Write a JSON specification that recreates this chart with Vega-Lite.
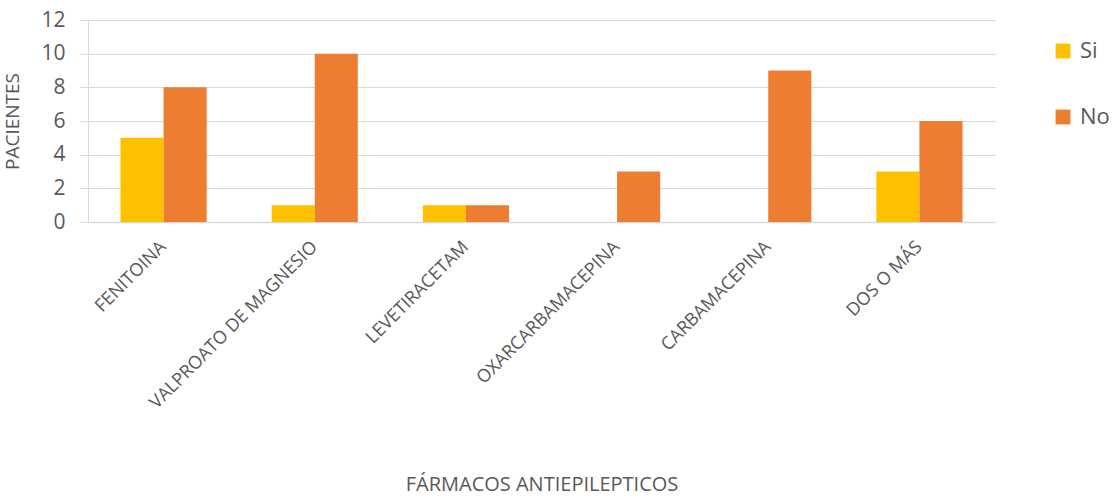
{
  "$schema": "https://vega.github.io/schema/vega-lite/v6.json",
  "width": 907,
  "height": 202,
  "autosize": {"type": "none"},
  "padding": {"left": 88, "top": 20, "right": 122, "bottom": 277},
  "background": "white",
  "data": {
    "values": [
      {"farmaco": "FENITOINA", "respuesta": "Si", "pacientes": 5},
      {"farmaco": "FENITOINA", "respuesta": "No", "pacientes": 8},
      {"farmaco": "VALPROATO DE MAGNESIO", "respuesta": "Si", "pacientes": 1},
      {"farmaco": "VALPROATO DE MAGNESIO", "respuesta": "No", "pacientes": 10},
      {"farmaco": "LEVETIRACETAM", "respuesta": "Si", "pacientes": 1},
      {"farmaco": "LEVETIRACETAM", "respuesta": "No", "pacientes": 1},
      {"farmaco": "OXARCARBAMACEPINA", "respuesta": "Si", "pacientes": 0},
      {"farmaco": "OXARCARBAMACEPINA", "respuesta": "No", "pacientes": 3},
      {"farmaco": "CARBAMACEPINA", "respuesta": "Si", "pacientes": 0},
      {"farmaco": "CARBAMACEPINA", "respuesta": "No", "pacientes": 9},
      {"farmaco": "DOS O MÁS", "respuesta": "Si", "pacientes": 3},
      {"farmaco": "DOS O MÁS", "respuesta": "No", "pacientes": 6}
    ]
  },
  "config": {
    "view": {"stroke": null},
    "font": "Open Sans",
    "axis": {"labelColor": "#595959", "titleColor": "#595959", "titleFontWeight": "normal", "labelFont": "Open Sans", "titleFont": "Open Sans"}
  },
  "mark": {"type": "bar"},
  "encoding": {
    "x": {
      "field": "farmaco",
      "type": "nominal",
      "sort": null,
      "scale": {"paddingInner": 0.43, "paddingOuter": 0.215},
      "axis": {
        "title": "FÁRMACOS ANTIEPILEPTICOS",
        "titleFontSize": 20,
        "titleY": 262,
        "titleBaseline": "middle",
        "labelAngle": -45,
        "labelAlign": "right",
        "labelBaseline": "middle",
        "labelFontSize": 18,
        "labelLimit": 0,
        "labelPadding": 22,
        "ticks": false,
        "domainColor": "#d9d9d9",
        "domainWidth": 1.5
      }
    },
    "xOffset": {"field": "respuesta", "type": "nominal", "sort": ["Si", "No"]},
    "y": {
      "field": "pacientes",
      "type": "quantitative",
      "scale": {"domain": [0, 12]},
      "axis": {
        "title": "PACIENTES",
        "titleFontSize": 19,
        "titleX": -66,
        "values": [0, 2, 4, 6, 8, 10, 12],
        "labelFontSize": 21,
        "labelPadding": 15,
        "gridColor": "#d9d9d9",
        "gridWidth": 1.2,
        "tickColor": "#d9d9d9",
        "tickSize": 8,
        "domainColor": "#d9d9d9"
      }
    },
    "color": {
      "field": "respuesta",
      "type": "nominal",
      "sort": ["Si", "No"],
      "scale": {"domain": ["Si", "No"], "range": ["#FFC000", "#ED7D31"]},
      "legend": {
        "title": null,
        "orient": "none",
        "legendX": 964,
        "legendY": 20,
        "symbolType": "square",
        "symbolSize": 220,
        "symbolStrokeWidth": 0,
        "labelFontSize": 22,
        "labelColor": "#595959",
        "labelFont": "Open Sans",
        "rowPadding": 44,
        "labelOffset": 6
      }
    }
  }
}
